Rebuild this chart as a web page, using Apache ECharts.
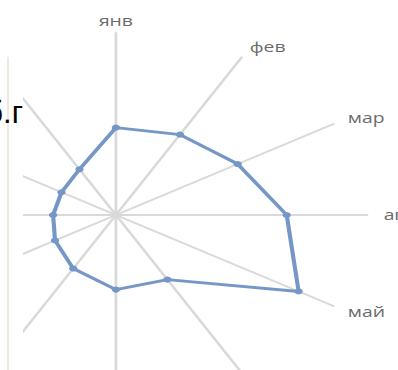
<!DOCTYPE html>
<html>
<head>
<meta charset="utf-8">
<script src="https://cdn.jsdelivr.net/npm/echarts@6/dist/echarts.min.js"></script>
<style>
  html, body { margin: 0; padding: 0; background: #fff; width: 398px; height: 370px; overflow: hidden; }
  #wrap { position: absolute; left: 23px; top: 0; width: 375px; height: 370px; overflow: hidden; }
  #lineMain { position: absolute; left: -23px; top: 0; width: 300px; height: 370px;
              transform: scaleX(1.38); transform-origin: 0 0; }
  #edge { position: absolute; left: 7px; top: 57px; width: 2px; height: 313px; background: #efe9de; }
  #title { position: absolute; right: 375px; top: 96px; font-family: "Liberation Sans", Arial, sans-serif;
           font-size: 31px; color: #000; white-space: nowrap; line-height: 34px; }
</style>
</head>
<body>
<div id="edge"></div>
<div id="wrap"><div id="lineMain"></div></div>
<div id="title">б.г</div>
<script>
(function () {
    'use strict';
    // месяцы и значения
    var months = ['янв', 'фев', 'мар', 'апр', 'май', 'июн', 'июл', 'авг', 'сен', 'окт', 'ноя', 'дек'];
    var values = [48, 51, 56, 68, 84, 41, 41, 34, 28, 25, 25, 29];
    var maxValue = 100;

    // echarts кладёт оси против часовой стрелки, поэтому разворачиваем порядок
    var order = [0];
    for (var i = months.length - 1; i > 0; i--) order.push(i);

    var indicator = order.map(function (k) { return { name: months[k], max: maxValue }; });
    var data = order.map(function (k) { return values[k]; });

    var dom = document.getElementById('lineMain');
    var myChart = echarts.init(dom, null, { renderer: 'svg' });
    var option = {
        animation: false,
        radar: {
            center: [84, 215],
            radius: 182,
            startAngle: 90,
            shape: 'polygon',
            nameGap: 12,
            indicator: indicator,
            axisName: { color: '#6b6b6b', fontSize: 14, fontFamily: 'Open Sans', verticalAlign: 'middle' },
            axisLine: { lineStyle: { color: '#d9d9d9', width: 2 } },
            splitLine: { show: false },
            splitArea: { show: false },
            axisTick: { show: false },
            axisLabel: { show: false }
        },
        series: [{
            type: 'radar',
            symbol: 'circle',
            symbolSize: 6,
            lineStyle: { color: '#7597c7', width: 3 },
            itemStyle: { color: '#7597c7' },
            data: [{ value: data, name: 'значения' }]
        }]
    };
    myChart.setOption(option, true);
}());
</script>
</body>
</html>
